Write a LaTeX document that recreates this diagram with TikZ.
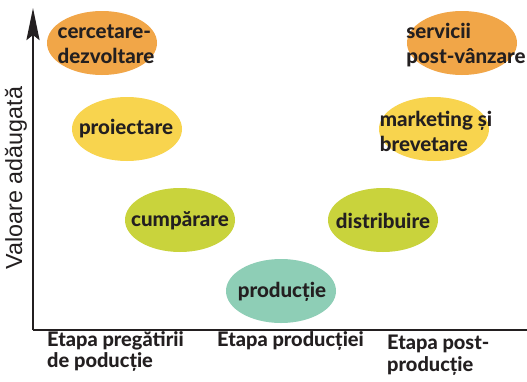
\documentclass[tikz,border=0pt]{standalone}
\usepackage{fontspec}
\setmainfont{Lato}
\newfontfamily\heavyfont{Lato Heavy}
\newfontfamily\axisfont{Liberation Sans}
\usetikzlibrary{shapes.geometric,arrows.meta}
\definecolor{corange}{RGB}{241,166,72}
\definecolor{cyellow}{RGB}{248,212,78}
\definecolor{cgreen}{RGB}{201,211,60}
\definecolor{cteal}{RGB}{142,206,182}
\definecolor{ctext}{RGB}{35,31,32}
\tikzset{
  bubble/.style={ellipse, minimum width=110pt, minimum height=64pt, inner sep=0pt},
  btext/.style={inner sep=0pt, text=ctext, font=\heavyfont\fontsize{20.5}{25}\selectfont, align=left},
  stage/.style={anchor=north west, inner sep=0pt, text=ctext,
    font=\heavyfont\fontsize{20}{21.5}\selectfont, align=left},
  axis/.style={line width=2.4pt, draw=ctext}
}
\begin{document}
\begin{tikzpicture}[x=1pt,y=-1pt]
\useasboundingbox (0,0) rectangle (527,381);
\fill[white] (0,0) rectangle (527,381);
\node[bubble, fill=corange] (cd) at (102,43) {};
\node[bubble, fill=cyellow] (pr) at (127,129) {};
\node[bubble, fill=cgreen] (cu) at (180,220) {};
\node[bubble, fill=cteal] (pd) at (281,291) {};
\node[bubble, fill=cgreen] (di) at (383,220) {};
\node[bubble, fill=cyellow] (mk) at (434,129) {};
\node[bubble, fill=corange] (sv) at (462,43) {};
\node[btext] (cdt) at (106,44) {cercetare-\\dezvoltare};
\node[btext] (prt) at (126,129) {proiectare};
\node[btext] (cut) at (180,221) {cumpărare};
\node[btext] (pdt) at (282,292) {producție};
\node[btext] (dit) at (383,221) {distribuire};
\node[btext] (mkt) at (436,131) {marketing și\\brevetare};
\node[btext] (svt) at (466,45) {servicii\\post-vânzare};
\coordinate (o) at (33,330);
\coordinate (top) at (33,8);
\coordinate (right) at (527,330);
\draw[axis, -{Stealth[length=32pt,width=13pt,inset=5pt]}] (o) -- (top);
\draw[axis] (o) -- (right);
\node[rotate=90, text=ctext, font=\axisfont\fontsize{23.3}{26}\selectfont, inner sep=0pt] (va) at (16,178) {Valoare adăugată};
\node[stage] (s1) at (47,331) {Etapa pregătirii\\de poducție};
\node[stage] (s2) at (217,331) {Etapa producției};
\node[stage] (s3) at (387,335) {Etapa post-\\producție};
\end{tikzpicture}
\end{document}
